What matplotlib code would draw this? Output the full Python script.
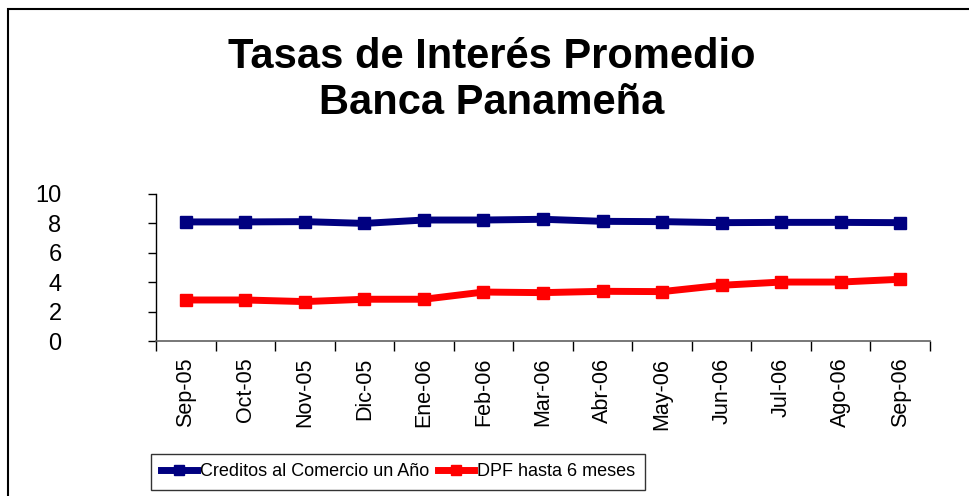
import numpy as np
import matplotlib.pyplot as plt
import matplotlib.patches as patches

plt.rcParams['font.family'] = ['Liberation Sans', 'DejaVu Sans']

months = ['Sep-05', 'Oct-05', 'Nov-05', 'Dic-05', 'Ene-06', 'Feb-06', 'Mar-06',
          'Abr-06', 'May-06', 'Jun-06', 'Jul-06', 'Ago-06', 'Sep-06']
creditos = [8.10, 8.10, 8.12, 8.00, 8.23, 8.23, 8.28, 8.14, 8.12, 8.05, 8.07, 8.07, 8.05]
dpf = [2.79, 2.79, 2.68, 2.84, 2.84, 3.33, 3.29, 3.38, 3.36, 3.79, 4.01, 4.01, 4.20]
yticks = [0, 2, 4, 6, 8, 10]

W, H = 969, 496
fig = plt.figure(figsize=(W / 100, H / 100), dpi=100)

# outer chart frame (only left and top visible in the crop)
fig.add_artist(patches.Rectangle((8 / W, -0.1), 1.2, (H - 9) / H + 0.1, transform=fig.transFigure,
                                 fill=False, edgecolor='black', linewidth=1.5))

ax = fig.add_axes([156 / W, 1 - 341 / H, (930 - 156) / W, (341 - 194) / H])
x = np.arange(len(months))
ax.plot(x, creditos, color='#000080', linewidth=5, marker='s', markersize=8,
        label='Creditos al Comercio un Año')
ax.plot(x, dpf, color='#ff0000', linewidth=5, marker='s', markersize=8,
        label='DPF hasta 6 meses')

ax.set_xlim(-0.5, len(months) - 0.5)
ax.set_ylim(0, 10)
ax.set_yticks(yticks)
ax.set_yticklabels([str(v) for v in yticks], fontsize=17)
ax.tick_params(axis='y', direction='out', length=6, width=1, pad=62)

ax.set_xticks(np.arange(len(months) + 1) - 0.5)
ax.set_xticklabels([])
ax.set_xticks(x, minor=True)
ax.set_xticklabels(months, minor=True, rotation=90, fontsize=15.5)
ax.tick_params(axis='x', which='major', direction='out', length=7, width=1)
ax.tick_params(axis='x', which='minor', length=0, pad=12)

for s in ['top', 'right']:
    ax.spines[s].set_visible(False)
ax.spines['left'].set_linewidth(1)
ax.spines['bottom'].set_linewidth(1.2)
ax.spines['bottom'].set_color('#606060')

fig.text(492 / W, 1 - 80 / H, 'Tasas de Interés Promedio\nBanca Panameña', ha='center', va='center',
         fontsize=30, fontweight='bold', linespacing=1.2)

leg = fig.legend(loc='center', bbox_to_anchor=(398 / W, 1 - 472 / H), ncol=2, fontsize=13,
                 frameon=True, fancybox=False, edgecolor='black', handlelength=2.0,
                 handletextpad=0.15, columnspacing=0.5, borderpad=0.55, borderaxespad=0,
                 markerscale=0.9)
leg.get_frame().set_linewidth(1)

fig.savefig('out.png', dpi=100)
